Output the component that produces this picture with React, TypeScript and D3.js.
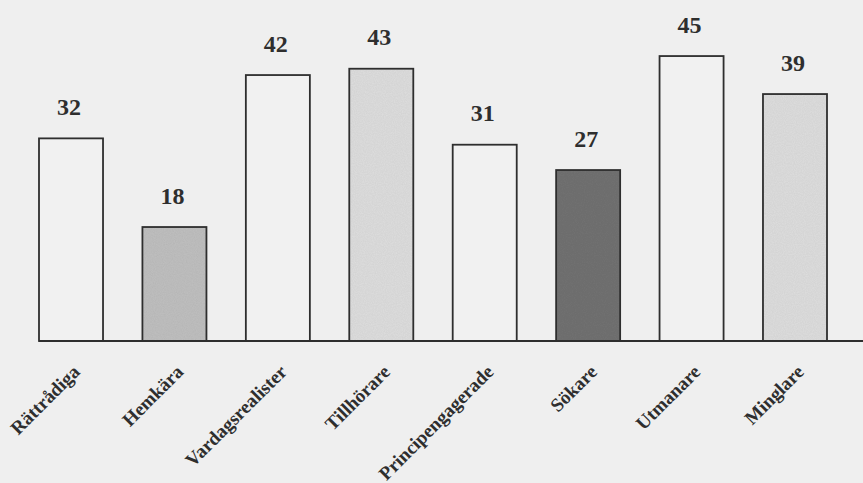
import React from 'react';
import * as d3 from 'd3';

// Segment shares (percent)
const categories = [
  'Rättrådiga',
  'Hemkära',
  'Vardagsrealister',
  'Tillhörare',
  'Principengagerade',
  'Sökare',
  'Utmanare',
  'Minglare',
];
const values = [32, 18, 42, 43, 31, 27, 45, 39];

const W = 863;
const H = 483;
const BG = '#efefef';
const INK = '#2e2e2e';
const PLAIN = '#f1f1f1';

// Tone for each segment's bar
const barFill: Record<string, string> = {
  'Rättrådiga': PLAIN,
  'Hemkära': '#c0c0c0',
  'Vardagsrealister': PLAIN,
  'Tillhörare': '#dedede',
  'Principengagerade': PLAIN,
  'Sökare': '#727272',
  'Utmanare': PLAIN,
  'Minglare': '#dedede',
};

export default function App() {
  const x = d3
    .scaleBand<string>()
    .domain(categories)
    .range([39, 827])
    .paddingInner(0.381)
    .paddingOuter(0);
  const y = d3.scaleLinear().domain([0, 50]).range([341, 24.4]);
  const base = y(0);

  return (
    <svg
      width={W}
      height={H}
      style={{ position: 'absolute', left: 0, top: 0, display: 'block' }}
      fontFamily="'Liberation Serif', 'Times New Roman', serif"
    >
      <defs>
        <filter id="grain" x="0" y="0" width="100%" height="100%">
          <feTurbulence type="fractalNoise" baseFrequency="0.9" numOctaves={2} seed={3} result="n" />
          <feColorMatrix
            in="n"
            type="matrix"
            values="0 0 0 0 0  0 0 0 0 0  0 0 0 0 0  0 0 0 0.12 0"
            result="dots"
          />
          <feComposite in="dots" in2="SourceGraphic" operator="in" result="d" />
          <feMerge>
            <feMergeNode in="SourceGraphic" />
            <feMergeNode in="d" />
          </feMerge>
        </filter>
      </defs>
      <rect width={W} height={H} fill={BG} />

      {categories.map((c, i) => {
        const x0 = x(c)!;
        const bw = x.bandwidth();
        const top = y(values[i]);
        const cx = x0 + bw / 2;
        const textured = barFill[c] !== PLAIN;
        return (
          <g key={c}>
            <rect
              x={x0}
              y={top}
              width={bw}
              height={base - top}
              fill={barFill[c]}
              filter={textured ? 'url(#grain)' : undefined}
            />
            <rect
              x={x0}
              y={top}
              width={bw}
              height={base - top}
              fill="none"
              stroke={INK}
              strokeWidth={1.8}
            />
            <text
              x={cx - 2}
              y={top - 23.5}
              textAnchor="middle"
              fontSize={24}
              fontWeight="bold"
              fill={INK}
            >
              {values[i]}
            </text>
            <text
              transform={`translate(${cx + 10},${base + 32}) rotate(-45)`}
              textAnchor="end"
              fontSize={19}
              fontWeight="bold"
              fill={INK}
            >
              {c}
            </text>
          </g>
        );
      })}

      <line x1={39} x2={W} y1={base} y2={base} stroke={INK} strokeWidth={2} />
    </svg>
  );
}
